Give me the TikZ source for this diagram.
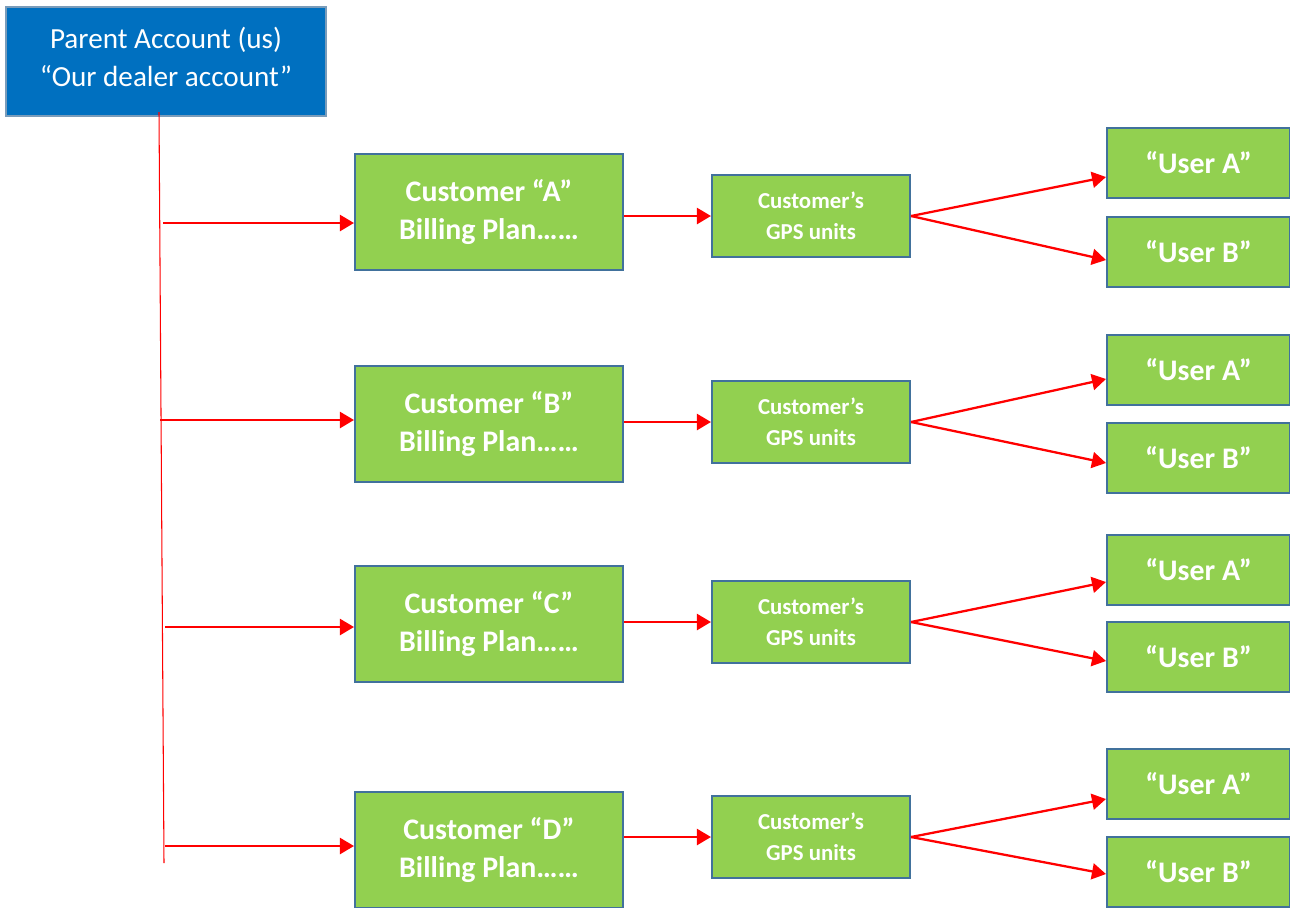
\documentclass[tikz,border=0pt]{standalone}
\usepackage{fontspec}
\setmainfont{Carlito}
\usepackage{tikz}
\usetikzlibrary{arrows.meta}
\definecolor{acctblue}{HTML}{0070C0}
\definecolor{boxgreen}{HTML}{92D050}
\definecolor{edgeblue}{HTML}{41719C}
\tikzset{
    parent-box/.style = {draw=edgeblue!70, fill=acctblue, line width=1pt, text=white, align=center,
        minimum width=6.4cm, minimum height=2.18cm, font=\fontsize{16.6}{21.6}\selectfont},
    plan-box/.style = {draw=edgeblue, fill=boxgreen, line width=1.2pt, text=white, align=center,
        minimum width=5.36cm, minimum height=2.32cm, font=\bfseries\fontsize{17}{21.6}\selectfont},
    gps-box/.style = {draw=edgeblue, fill=boxgreen, line width=1.2pt, text=white, align=center,
        minimum width=3.96cm, minimum height=1.64cm, font=\bfseries\fontsize{13}{17.6}\selectfont},
    user-box/.style = {draw=edgeblue, fill=boxgreen, line width=1.2pt, text=white,
        minimum width=3.66cm, minimum height=1.4cm, font=\bfseries\fontsize{17}{20}\selectfont},
    red-arrow/.style = {draw=red, line width=1.3pt, -{Triangle[length=0.28cm, width=0.32cm]}},
}

\begin{document}
\begin{tikzpicture}[x=0.02cm, y=-0.02cm]
\clip (0,0) rectangle (1290,907);
\fill[white] (0,0) rectangle (1290,907);

\node [parent-box] (parent) at (166,61.5) {Parent Account (us)\\“Our dealer account”\\[-16pt]};

\node [plan-box] (planA) at (489,212) {Customer “A”\\Billing Plan……};
\node [plan-box] (planB) at (489,424) {Customer “B”\\Billing Plan……};
\node [plan-box] (planC) at (489,624) {Customer “C”\\Billing Plan……};
\node [plan-box] (planD) at (489,850) {Customer “D”\\Billing Plan……};

\node [gps-box] (gpsA) at (811,216) {Customer’s\\GPS units};
\node [gps-box] (gpsB) at (811,422) {Customer’s\\GPS units};
\node [gps-box] (gpsC) at (811,622) {Customer’s\\GPS units};
\node [gps-box] (gpsD) at (811,837) {Customer’s\\GPS units};

\node [user-box] (userA1) at (1198.5,163) {“User A”};
\node [user-box] (userA2) at (1198.5,252) {“User B”};
\node [user-box] (userB1) at (1198.5,370) {“User A”};
\node [user-box] (userB2) at (1198.5,458) {“User B”};
\node [user-box] (userC1) at (1198.5,570) {“User A”};
\node [user-box] (userC2) at (1198.5,657) {“User B”};
\node [user-box] (userD1) at (1198.5,784) {“User A”};
\node [user-box] (userD2) at (1198.5,872) {“User B”};

% trunk from the parent account
\coordinate (trunk-top) at (159,112);
\coordinate (trunk-bot) at (164,863);
\draw [red, line width=0.6pt] (trunk-top) -- (trunk-bot);

\coordinate (tA) at (163,223);
\coordinate (tB) at (160,420);
\coordinate (tC) at (165,627);
\coordinate (tD) at (165,846);
\draw [red-arrow] (tA) -- (tA -| planA.west);
\draw [red-arrow] (tB) -- (tB -| planB.west);
\draw [red-arrow] (tC) -- (tC -| planC.west);
\draw [red-arrow] (tD) -- (tD -| planD.west);

\draw [red-arrow] (planA.east |- gpsA.west) -- (gpsA.west);
\draw [red-arrow] (planB.east |- gpsB.west) -- (gpsB.west);
\draw [red-arrow] (planC.east |- gpsC.west) -- (gpsC.west);
\draw [red-arrow] (planD.east |- gpsD.west) -- (gpsD.west);

\draw [red-arrow] (gpsA.east) -- ([yshift=-0.28cm]userA1.west);
\draw [red-arrow] (gpsA.east) -- ([yshift=-0.16cm]userA2.west);
\draw [red-arrow] (gpsB.east) -- ([yshift=-0.18cm]userB1.west);
\draw [red-arrow] (gpsB.east) -- ([yshift=-0.1cm]userB2.west);
\draw [red-arrow] (gpsC.east) -- ([yshift=-0.24cm]userC1.west);
\draw [red-arrow] (gpsC.east) -- ([yshift=-0.08cm]userC2.west);
\draw [red-arrow] (gpsD.east) -- ([yshift=-0.3cm]userD1.west);
\draw [red-arrow] (gpsD.east) -- ([yshift=-0.04cm]userD2.west);
\end{tikzpicture}
\end{document}
